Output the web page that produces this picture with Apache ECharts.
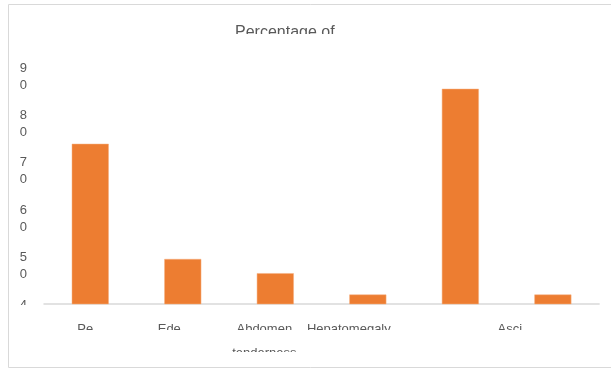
<!DOCTYPE html>
<html>
<head>
<meta charset="utf-8">
<script src="https://cdn.jsdelivr.net/npm/echarts@6/dist/echarts.min.js"></script>
<style>
  html, body { margin: 0; padding: 0; background: #fff; }
  #chart { width: 611px; height: 370px; }
</style>
</head>
<body>
<div id="chart"></div>
<script>
// values
const categories = ['Pe', 'Ede', 'Abdomen\ntenderness', 'Hepatomegaly', '', 'Asci'];
const values = [73.8, 49.5, 46.5, 42, 85.4, 42];
const yTicks = [40, 50, 60, 70, 80, 90];
const titleText = 'Percentage of';

// right padding per category label (shifts the clipped label left like the original)
const labelPad = [10, 27, 22, 38, 0, 86];

const textColor = '#595959';
const fontFamily = '"Liberation Sans", Arial, sans-serif';

const chart = echarts.init(document.getElementById('chart'));

const xRich = {};
labelPad.forEach((p, i) => {
  xRich['c' + i] = {
    padding: [0, p, 0, 0],
    lineHeight: 24,
    fontSize: 13,
    color: textColor,
    fontFamily: fontFamily
  };
});

chart.setOption({
  animation: false,
  title: {
    text: titleText,
    left: 235,
    top: 25,
    padding: 0,
    textStyle: {
      fontSize: 16,
      fontWeight: 'normal',
      color: textColor,
      fontFamily: fontFamily
    }
  },
  grid: {
    left: 44,
    right: 10,
    top: 67,
    bottom: 66,
    containLabel: false
  },
  xAxis: {
    type: 'category',
    data: categories,
    axisTick: { show: false },
    axisLine: { show: true, lineStyle: { color: '#d9d9d9', width: 1.5 } },
    axisLabel: {
      interval: 0,
      margin: 13,
      formatter: (value, index) =>
        value.split('\n').map(s => '{c' + index + '|' + s + '}').join('\n'),
      rich: xRich
    }
  },
  yAxis: {
    type: 'value',
    min: yTicks[0],
    max: yTicks[yTicks.length - 1],
    interval: yTicks[1] - yTicks[0],
    axisLine: { show: false },
    axisTick: { show: false },
    splitLine: { show: false },
    axisLabel: {
      margin: 17,
      verticalAlign: 'top',
      formatter: v => {
        const s = String(v);
        return '{a|' + s[0] + '}\n{b|' + s.slice(1) + '}';
      },
      rich: {
        a: { lineHeight: 2, fontSize: 13, color: textColor, fontFamily: fontFamily },
        b: { lineHeight: 32, fontSize: 13, color: textColor, fontFamily: fontFamily }
      }
    }
  },
  series: [{
    type: 'bar',
    data: values,
    barWidth: '40%',
    itemStyle: {
      color: '#ED7D31',
      borderColor: '#F4B183',
      borderWidth: 0.5
    }
  }],
  graphic: [
    // the original clips its texts; white strips hide the lower parts
    { type: 'rect', z: 100, shape: { x: 220, y: 34, width: 140, height: 18 }, style: { fill: '#fff' } },
    { type: 'rect', z: 100, shape: { x: 10, y: 305, width: 33, height: 30 }, style: { fill: '#fff' } },
    { type: 'rect', z: 100, shape: { x: 45, y: 330, width: 560, height: 15 }, style: { fill: '#fff' } },
    { type: 'rect', z: 100, shape: { x: 45, y: 352, width: 560, height: 15 }, style: { fill: '#fff' } },
    // outer chart border
    {
      type: 'rect', z: 101,
      shape: { x: 8.5, y: 4.5, width: 620, height: 363 },
      style: { fill: null, stroke: '#d9d9d9', lineWidth: 1 }
    }
  ]
});
</script>
</body>
</html>
